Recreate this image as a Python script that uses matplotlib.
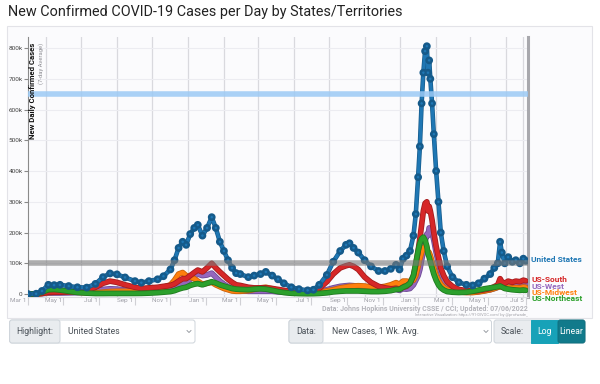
import matplotlib
matplotlib.use('Agg')
import matplotlib.pyplot as plt
import matplotlib.dates as mdates
import matplotlib.patheffects as pe
from matplotlib.patches import FancyBboxPatch, Rectangle
from matplotlib.transforms import ScaledTranslation
import pandas as pd

plt.rcParams['font.family'] = ['Roboto', 'DejaVu Sans']

# ---------------- data (7-day avg new cases, thousands) ----------------
dates = [
    "2020-03-01", "2020-03-15", "2020-03-25", "2020-04-05", "2020-04-15", "2020-04-25", "2020-05-10", "2020-05-25", "2020-06-10", "2020-06-25",
    "2020-07-08", "2020-07-20", "2020-08-01", "2020-08-15", "2020-09-01", "2020-09-12", "2020-09-25", "2020-10-10", "2020-10-20", "2020-11-01",
    "2020-11-08", "2020-11-15", "2020-11-22", "2020-11-28", "2020-12-05", "2020-12-12", "2020-12-18", "2020-12-26", "2021-01-03", "2021-01-11",
    "2021-01-18", "2021-01-25", "2021-02-01", "2021-02-08", "2021-02-15", "2021-02-22", "2021-03-01", "2021-03-15", "2021-03-25", "2021-04-05",
    "2021-04-14", "2021-04-25", "2021-05-05", "2021-05-15", "2021-05-28", "2021-06-10", "2021-06-25", "2021-07-05", "2021-07-15", "2021-07-28",
    "2021-08-08", "2021-08-20", "2021-08-30", "2021-09-05", "2021-09-12", "2021-09-20", "2021-10-01", "2021-10-12", "2021-10-25", "2021-11-05",
    "2021-11-15", "2021-11-24", "2021-11-30", "2021-12-06", "2021-12-12", "2021-12-18", "2021-12-24", "2021-12-28", "2022-01-01", "2022-01-04",
    "2022-01-07", "2022-01-10", "2022-01-13", "2022-01-16", "2022-01-18", "2022-01-20", "2022-01-22", "2022-01-25", "2022-01-28", "2022-02-01",
    "2022-02-05", "2022-02-09", "2022-02-14", "2022-02-20", "2022-03-01", "2022-03-12", "2022-03-25", "2022-04-05", "2022-04-15", "2022-04-25",
    "2022-05-05", "2022-05-12", "2022-05-18", "2022-05-22", "2022-05-25", "2022-05-30", "2022-06-05", "2022-06-12", "2022-06-18", "2022-06-25",
    "2022-07-01", "2022-07-05",
]
united_states = [
    0, 1, 10, 30, 29, 30, 26, 22, 21, 33,
    55, 67, 64, 54, 42, 37, 42, 48, 58, 80,
    110, 150, 170, 160, 195, 215, 225, 190, 215, 250,
    215, 170, 140, 110, 85, 68, 65, 55, 60, 65,
    72, 60, 48, 35, 22, 16, 12, 14, 30, 62,
    105, 140, 160, 165, 150, 135, 110, 90, 75, 75,
    82, 95, 80, 115, 125, 140, 190, 260, 380, 480,
    620, 720, 790, 806, 720, 760, 700, 620, 520, 400,
    300, 200, 140, 90, 55, 38, 30, 28, 35, 50,
    65, 85, 100, 170, 135, 100, 120, 105, 110, 100,
    115, 108,
]
us_south = [
    0, 0.3, 2, 6, 6, 6, 7, 8, 11, 22,
    35, 42, 38, 30, 22, 18, 20, 22, 25, 28,
    33, 42, 50, 50, 60, 70, 78, 72, 85, 100,
    85, 72, 60, 48, 38, 30, 28, 22, 20, 20,
    20, 18, 15, 12, 9, 7, 6, 8, 18, 40,
    65, 85, 92, 95, 90, 80, 55, 38, 25, 20,
    17, 18, 16, 22, 25, 35, 60, 95, 140, 180,
    225, 270, 295, 300, 270, 285, 270, 240, 200, 155,
    120, 85, 60, 40, 25, 15, 11, 10, 11, 14,
    18, 24, 30, 50, 40, 35, 42, 38, 42, 40,
    45, 43,
]
us_west = [
    0, 0.2, 1.5, 3, 3.5, 3.5, 4, 4.5, 6, 10,
    15, 17, 16, 13, 9, 8, 8, 9, 11, 14,
    18, 28, 35, 38, 48, 58, 65, 60, 62, 68,
    55, 42, 32, 24, 17, 13, 11, 9, 9, 9,
    9, 9, 7, 6, 4, 3.5, 3.5, 4.5, 8, 14,
    20, 25, 27, 28, 27, 25, 22, 18, 16, 15,
    15, 15, 12, 17, 16, 18, 30, 45, 60, 80,
    110, 140, 170, 195, 190, 215, 210, 200, 175, 135,
    100, 70, 45, 28, 16, 9, 6, 6, 8, 11,
    14, 18, 22, 28, 26, 25, 30, 30, 32, 30,
    33, 32,
]
us_midwest = [
    0, 0.2, 2, 5, 6, 8, 8, 6, 4, 4,
    6, 8, 9, 9, 10, 10, 13, 17, 22, 30,
    45, 65, 70, 60, 55, 50, 42, 32, 35, 38,
    30, 24, 18, 14, 10, 9, 9, 11, 15, 20,
    22, 17, 12, 8, 5, 3, 2.5, 3, 5, 10,
    14, 20, 23, 25, 26, 27, 26, 23, 22, 25,
    30, 37, 32, 42, 42, 40, 45, 60, 90, 115,
    135, 150, 155, 150, 135, 135, 125, 105, 85, 60,
    45, 32, 22, 15, 10, 7, 5, 5, 7, 10,
    14, 18, 22, 25, 23, 20, 22, 20, 21, 20,
    23, 22,
]
us_northeast = [
    0, 0.5, 6, 14, 15, 13, 9, 5, 3, 1.8,
    1.8, 2, 2, 2, 2, 2.2, 3, 4.5, 6, 8,
    11, 16, 20, 22, 28, 32, 34, 30, 35, 40,
    36, 30, 26, 22, 18, 16, 15, 14, 16, 17,
    16, 12, 8, 5, 2.5, 1.5, 1.2, 1.3, 2, 4,
    7, 9, 10, 10, 10, 10, 9, 8, 8, 9,
    11, 15, 15, 22, 27, 35, 60, 100, 140, 165,
    180, 185, 175, 155, 130, 120, 105, 85, 65, 45,
    30, 20, 13, 8, 6, 5, 6, 9, 13, 17,
    20, 22, 24, 26, 23, 18, 16, 14, 13, 12,
    13, 12,
]

series_names = ["US-West", "US-Midwest", "US-South", "US-Northeast"]
series_values = [us_west, us_midwest, us_south, us_northeast]
series_colors = ["#9467bd", "#ff7f0e", "#d62728", "#2ca02c"]
series_edges = ["#6f4a97", "#c8620a", "#a51c1d", "#1f7a1f"]

label_names = ["US-South", "US-West", "US-Midwest", "US-Northeast"]
label_colors = ["#d62728", "#9467bd", "#ff7f0e", "#2ca02c"]
label_y_px = [280, 286.5, 292.5, 298.5]

tick_dates = ["2020-03-01", "2020-05-01", "2020-07-01", "2020-09-01", "2020-11-01",
              "2021-01-01", "2021-03-01", "2021-05-01", "2021-07-01", "2021-09-01",
              "2021-11-01", "2022-01-01", "2022-03-01", "2022-05-01", "2022-07-05"]
tick_labels = ["Mar 1", "May 1", "Jul 1", "Sep 1", "Nov 1", "Jan 1", "Mar 1", "May 1",
               "Jul 1", "Sep 1", "Nov 1", "Jan 1", "Mar 1", "May 1", "Jul 5"]
y_ticks = [0, 100, 200, 300, 400, 500, 600, 700, 800]
y_tick_labels = ["0", "100k", "200k", "300k", "400k", "500k", "600k", "700k", "800k"]

ref_lines = [100, 650]

# ---------------- figure ----------------
fig = plt.figure(figsize=(6, 3.84), dpi=100)
fig.patch.set_facecolor("white")
bg = fig.add_axes([0, 0, 1, 1], zorder=0)
bg.set_xlim(0, 600)
bg.set_ylim(384, 0)
bg.axis("off")

# chart panel
bg.add_patch(Rectangle((7, 26), 585, 292, facecolor="#fbfbfd", edgecolor="#e3e3e8", lw=0.8))

bg.text(8, 12, "New Confirmed COVID-19 Cases per Day by States/Territories",
        fontsize=10.4, color="#222222", va="center", ha="left")

ax = fig.add_axes([28 / 600, 1 - 296.5 / 384, 500 / 600, 259.5 / 384], zorder=1)
ax.set_facecolor("none")

x = pd.to_datetime(dates)
ax.set_xlim(pd.Timestamp("2020-03-01"), pd.Timestamp("2022-07-09"))
ax.set_ylim(-8, 836)

# grid
ax.xaxis.set_minor_locator(mdates.MonthLocator(bymonthday=1))
ax.grid(True, which="minor", axis="x", color="#d9d9de", lw=0.9, zorder=0)
ax.set_yticks(y_ticks)
ax.set_yticklabels(y_tick_labels)
ax.grid(True, which="major", axis="y", color="#ececf1", lw=0.8, zorder=0)
ax.set_xticks(pd.to_datetime(tick_dates))
ax.set_xticklabels(tick_labels)
ax.tick_params(axis="x", which="major", length=6, color="#d0d0d5", pad=-5,
               labelsize=4.6, labelcolor="#a0a0a8", direction="out")
ax.tick_params(axis="x", which="minor", length=0)
ax.tick_params(axis="y", length=3, color="#888888", pad=1, labelsize=4.6, labelcolor="#444444")
for lab in ax.get_xticklabels():
    lab.set_ha("right")
    lab.set_transform(lab.get_transform() + ScaledTranslation(-1.2 / 72, 0, fig.dpi_scale_trans))

ax.spines["top"].set_visible(False)
ax.spines["left"].set_color("#8a8a8a")
ax.spines["left"].set_linewidth(0.8)
ax.spines["bottom"].set_color("#dcdce2")
ax.spines["bottom"].set_linewidth(0.8)
ax.spines["right"].set_color("#a8a8ad")
ax.spines["right"].set_linewidth(2.2)

# regional lines
for vals, col, edge in zip(series_values, series_colors, series_edges):
    ax.plot(x, vals, color=col, lw=2.9, solid_capstyle="round", solid_joinstyle="round", zorder=3,
            path_effects=[pe.Stroke(linewidth=4.1, foreground=edge), pe.Normal()])

# United States (highlighted)
ax.plot(x, united_states, color="#1f77b4", lw=2.3, marker="o", ms=2.3, mfc="#1f77b4", mec="#155a8a", mew=0.4,
        zorder=5, solid_joinstyle="round",
        path_effects=[pe.Stroke(linewidth=3.3, foreground="#155a8a"), pe.Normal()])

# reference lines
ax.axhline(ref_lines[0], color="#7a7a7a", lw=4, alpha=0.6, zorder=6)
ax.axhline(ref_lines[1], color="#9ccaf5", lw=4, alpha=0.85, zorder=6)

# axis title inside plot
ax.text(33, 43, "New Daily Confirmed Cases", transform=bg.transData, rotation=90, va="top", ha="center",
        fontsize=5.6, fontweight="bold", color="#111111", zorder=7)
ax.text(41.5, 43, "(7-day Average)", transform=bg.transData, rotation=90, va="top", ha="center",
        fontsize=4.2, color="#8e8e94", zorder=7)

# end labels
ax.text(531, 259, "United States", transform=bg.transData, ha="left", va="center",
        fontsize=6, fontweight="bold", color="#1f77b4", clip_on=False)
for name, col, ypx in zip(label_names, label_colors, label_y_px):
    ax.text(531, ypx, name, transform=bg.transData, ha="left", va="center",
            fontsize=6, fontweight="bold", color=col, clip_on=False)

# source
bg.text(528, 309, "Data: Johns Hopkins University CSSE / CCI; Updated: 07/06/2022",
        ha="right", va="center", fontsize=5, fontweight="bold", color="#b4b4ba")
bg.text(528, 315, "Interactive Visualization: https://91-DIVOC.com/ by @profwade_",
        ha="right", va="center", fontsize=2.9, color="#a4a4aa")

# ---------------- control bar ----------------
top, hgt = 320, 23
ctl_y = top + hgt / 2

def box(x0, x1, fc, ec="#ced4da"):
    bg.add_patch(FancyBboxPatch((x0, top), x1 - x0, hgt, boxstyle="round,pad=0,rounding_size=2.5",
                                facecolor=fc, edgecolor=ec, lw=0.7))

def chevron(xc):
    bg.plot([xc - 2, xc, xc + 2], [ctl_y - 1, ctl_y + 1, ctl_y - 1], color="#8a8f96", lw=0.6)

box(9.6, 195, "white")
box(9.6, 60, "#e9ecef")
bg.text(16, ctl_y, "Highlight:", fontsize=6.2, color="#495057", va="center")
bg.text(68.5, ctl_y, "United States", fontsize=6.2, color="#495057", va="center")
chevron(189)

box(289, 491.5, "white")
box(289, 323, "#e9ecef")
bg.text(296, ctl_y, "Data:", fontsize=6.2, color="#495057", va="center")
bg.text(332, ctl_y, "New Cases, 1 Wk. Avg.", fontsize=6.2, color="#495057", va="center")
chevron(486)

box(494, 585, "#e9ecef")
bg.add_patch(Rectangle((531, top), 27, hgt, facecolor="#17a2b8", edgecolor="#17a2b8", lw=0.7))
bg.add_patch(FancyBboxPatch((558, top), 27, hgt, boxstyle="round,pad=0,rounding_size=2.5",
                            facecolor="#117a8b", edgecolor="#10707f", lw=0.7))
bg.text(501, ctl_y, "Scale:", fontsize=6.2, color="#495057", va="center")
bg.text(544.5, ctl_y, "Log", fontsize=6.2, color="white", va="center", ha="center")
bg.text(571.5, ctl_y, "Linear", fontsize=6.2, color="white", va="center", ha="center")

fig.savefig("out.png", dpi=100, facecolor="white")
